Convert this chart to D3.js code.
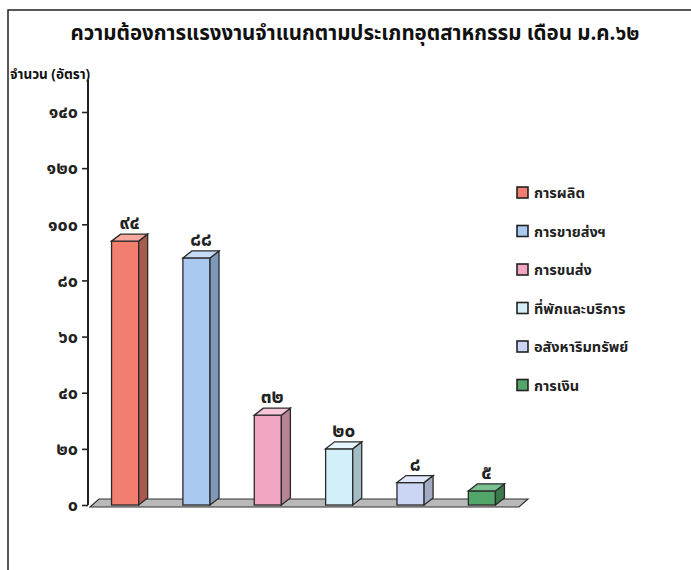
<!DOCTYPE html>
<html>
<head>
<meta charset="utf-8">
<script src="https://cdn.jsdelivr.net/npm/d3@7"></script>
<style>
  body { margin: 0; background: #fff; }
  text { font-family: "Noto Sans Thai", "Noto Sans", Tahoma, sans-serif; }
</style>
</head>
<body>
<svg id="chart" width="691" height="570"></svg>
<script>
// data
var categories = ["การผลิต", "การขายส่งฯ", "การขนส่ง", "ที่พักและบริการ", "อสังหาริมทรัพย์", "การเงิน"];
var values = [94, 88, 32, 20, 8, 5];
var tickValues = [0, 20, 40, 60, 80, 100, 120, 140];

var frontColor = ["#f27e70", "#a9c9f0", "#f3a6c4", "#d3effa", "#cbd6f5", "#52a66a"];
var sideColor = ["#a85a4e", "#7d98b8", "#b78496", "#a4bcc5", "#a2abc3", "#3b7a4c"];
var topColor = ["#f6a89c", "#c6dcf6", "#f7c4d8", "#e6f6fc", "#e0e7fa", "#7cc090"];

var thaiDigits = "๐๑๒๓๔๕๖๗๘๙";
function thaiNum(n) {
    return String(n).replace(/\d/g, function (d) { return thaiDigits[+d]; });
}

var svg = d3.select("#chart");

// frame
svg.append("path")
    .attr("d", "M8,575 L8,10 L700,10")
    .attr("fill", "none")
    .attr("stroke", "#222")
    .attr("stroke-width", 1.5);

// title
svg.append("text")
    .attr("x", 355).attr("y", 40)
    .attr("text-anchor", "middle")
    .style("font-size", "20.5px").style("font-weight", "bold")
    .style("fill", "#111")
    .text("ความต้องการแรงงานจำแนกตามประเภทอุตสาหกรรม เดือน ม.ค.๖๒");

svg.append("text")
    .attr("x", 10).attr("y", 79)
    .style("font-size", "13.5px").style("font-weight", "bold")
    .style("fill", "#111")
    .text("จำนวน (อัตรา)");

// scales
var y = d3.scaleLinear().domain([0, 151.4]).range([505, 80]);
var x = d3.scaleBand().domain(categories).range([88, 519])
    .paddingInner(0.62).paddingOuter(0.33);
var bw = x.bandwidth();
var dx = 9, dy = 7;

// axis line
svg.append("rect")
    .attr("x", 87).attr("y", y.range()[1])
    .attr("width", 2).attr("height", y(0) - y.range()[1])
    .attr("fill", "#222");

// y axis
var yAxis = d3.axisLeft(y).tickValues(tickValues).tickSize(6).tickPadding(4)
    .tickFormat(thaiNum).tickSizeOuter(0);
var gy = svg.append("g").attr("transform", "translate(88,0)").call(yAxis);
gy.select(".domain").remove();
gy.selectAll(".tick line").attr("stroke", "#222").attr("stroke-width", 1.6);
gy.selectAll(".tick text")
    .style("font-size", "18px").style("font-weight", "bold")
    .style("font-family", "\"Noto Sans Thai\", \"Noto Sans\", sans-serif")
    .attr("fill", "#222");

// floor
var y0 = y(0);
var fl = x.range();
svg.append("polygon")
    .attr("points", [[fl[0] + 2, y0 + 2], [fl[0] + 2 + dx, y0 + 2 - dy - 1], [fl[1] + dx, y0 + 2 - dy - 1], [fl[1], y0 + 2]]
        .map(function (p) { return p.join(","); }).join(" "))
    .attr("fill", "#b9b9b9")
    .attr("stroke", "#333").attr("stroke-width", 1.2);

// bars
var bars = svg.append("g").selectAll(".bar")
    .data(values).enter().append("g")
    .attr("class", "bar");

bars.append("rect")
    .attr("x", function (d, i) { return x(categories[i]); })
    .attr("y", function (d) { return y(d); })
    .attr("width", bw)
    .attr("height", function (d) { return y0 - y(d); })
    .attr("fill", function (d, i) { return frontColor[i]; })
    .attr("stroke", "#2a2a2a").attr("stroke-width", 1.3);

bars.append("polygon")
    .attr("points", function (d, i) {
        var xr = x(categories[i]) + bw, yt = y(d);
        return [[xr, yt], [xr + dx, yt - dy], [xr + dx, y0 - dy], [xr, y0]].join(" ");
    })
    .attr("fill", function (d, i) { return sideColor[i]; })
    .attr("stroke", "#2a2a2a").attr("stroke-width", 1.3);

bars.append("polygon")
    .attr("points", function (d, i) {
        var xl = x(categories[i]), yt = y(d);
        return [[xl, yt], [xl + dx, yt - dy], [xl + bw + dx, yt - dy], [xl + bw, yt]].join(" ");
    })
    .attr("fill", function (d, i) { return topColor[i]; })
    .attr("stroke", "#2a2a2a").attr("stroke-width", 1.3);

bars.append("text")
    .attr("x", function (d, i) { return x(categories[i]) + bw / 2 + dx / 2; })
    .attr("y", function (d) { return y(d) - dy - 5; })
    .attr("text-anchor", "middle")
    .style("font-size", "19px").style("font-weight", "bold")
    .style("fill", "#222")
    .text(function (d) { return thaiNum(d); });

// legend
var legend = svg.append("g").selectAll(".legend")
    .data(categories).enter().append("g")
    .attr("class", "legend")
    .attr("transform", function (d, i) { return "translate(517," + (193 + i * 38.5) + ")"; });

legend.append("rect")
    .attr("x", 0).attr("y", -6)
    .attr("width", 11).attr("height", 11)
    .attr("fill", function (d, i) { return frontColor[i]; })
    .attr("stroke", "#222").attr("stroke-width", 1.6);

legend.append("text")
    .attr("x", 17).attr("y", 0)
    .attr("dy", "0.35em")
    .style("font-size", "14.5px").style("font-weight", "bold")
    .style("fill", "#222")
    .text(function (d) { return d; });
</script>
</body>
</html>
